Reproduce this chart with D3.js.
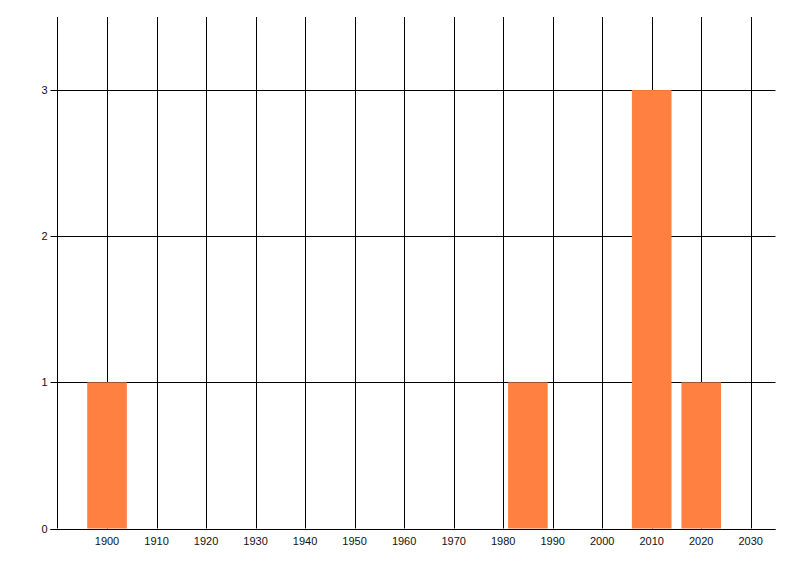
<!DOCTYPE html>
<html><head><meta charset="utf-8">
<script src="https://cdn.jsdelivr.net/npm/d3@7"></script>
<style>body{margin:0;background:#fff;} text{font-family:"Liberation Sans",Arial,sans-serif;font-size:11px;fill:#111;}</style>
</head><body>
<svg id="c" width="800" height="576"></svg>
<script>
const years = [1900, 1985, 2010, 2020];
const counts = [1, 1, 3, 1];
const xTicks = [1900, 1910, 1920, 1930, 1940, 1950, 1960, 1970, 1980, 1990, 2000, 2010, 2020, 2030];
const yTicks = [0, 1, 2, 3];
const barYears = 8;

const svg = d3.select("#c");
const L = 57.5, R = 775.5, T = 17, B = 528.5;
const x = d3.scaleLinear().domain([1890, 2035]).range([L, R]);
const y = d3.scaleLinear().domain([0, 3.5]).range([B, T]);

// vertical gridlines
svg.append("g").selectAll("line").data(xTicks).join("line")
  .attr("x1", d => Math.round(x(d)) + 0.5).attr("x2", d => Math.round(x(d)) + 0.5)
  .attr("y1", T).attr("y2", B).attr("stroke", "#000");
// horizontal gridlines
svg.append("g").selectAll("line").data(yTicks).join("line")
  .attr("x1", L - 7).attr("x2", R)
  .attr("y1", d => Math.round(y(d)) + 0.5).attr("y2", d => Math.round(y(d)) + 0.5)
  .attr("stroke", "#000");
// left axis line
svg.append("line").attr("x1", L).attr("x2", L).attr("y1", T).attr("y2", B).attr("stroke", "#000");

// bars
svg.append("g").selectAll("rect").data(years).join("rect")
  .attr("x", d => x(d - barYears / 2))
  .attr("width", d => x(d + barYears / 2) - x(d - barYears / 2))
  .attr("y", (d, i) => y(counts[i]))
  .attr("height", (d, i) => y(0) - y(counts[i]))
  .attr("fill", "#ff8040");

// redraw baseline over bars
svg.append("line").attr("x1", L - 7).attr("x2", R).attr("y1", Math.round(y(0)) + 0.5).attr("y2", Math.round(y(0)) + 0.5).attr("stroke", "#000");

// x labels
svg.append("g").selectAll("text").data(xTicks).join("text")
  .attr("x", d => x(d)).attr("y", 545).attr("text-anchor", "middle").text(d => d);
// y labels
svg.append("g").selectAll("text").data(yTicks).join("text")
  .attr("x", L - 10).attr("y", d => y(d) + 4).attr("text-anchor", "end").text(d => d);
</script>
</body></html>
